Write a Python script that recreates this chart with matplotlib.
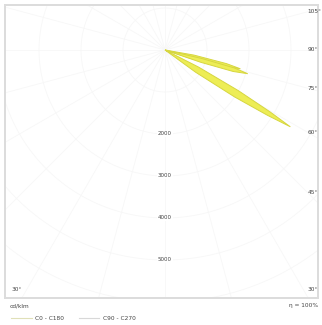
import numpy as np
import matplotlib
matplotlib.use("Agg")
import matplotlib.pyplot as plt
from matplotlib.lines import Line2D

# luminous intensity distribution (cd/klm), gamma angle measured from nadir
c0_gamma = [48, 54, 56, 57.5, 58.5, 59.5, 61, 63, 68, 72, 74.5, 76, 77.5, 80, 84]
c0_int = [0, 900, 2000, 2900, 3500, 2900, 2000, 900, 0, 700, 1500, 1850, 1500, 700, 0]
c90_gamma = [67, 71, 72.5, 74, 75.5, 77, 81]
c90_int = [0, 900, 1700, 2050, 1700, 900, 0]

ring_values = [1000, 2000, 3000, 4000, 5000, 6000, 7000]
ring_labels = ["2000", "3000", "4000", "5000"]
angle_ticks = [105, 90, 75, 60, 45]
legend_names = ["C0 - C180", "C90 - C270"]


def to_xy(gamma, r):
    g = np.radians(gamma)
    return np.asarray(r) * np.sin(g), -np.asarray(r) * np.cos(g)


fig = plt.figure(figsize=(3.22, 3.25), dpi=100)
ax = fig.add_axes([5 / 322, 27 / 325, 313 / 322, 293 / 325])
ax.set_xlim(-3810, 3643)
ax.set_ylim(-5905, 1071)
ax.set_aspect("equal", adjustable="box")
ax.set_xticks([])
ax.set_yticks([])
for s in ax.spines.values():
    s.set_color("#dcdcdc")
    s.set_linewidth(1.4)

# faint grid: rings and radial lines
t = np.linspace(0, 360, 361)
for rv in ring_values:
    x, y = to_xy(t, rv)
    ax.plot(x, y, color="#f7f7f7", lw=0.6, zorder=1)
for a in range(0, 360, 15):
    x, y = to_xy([a, a], [0, 8000])
    ax.plot(x, y, color="#f7f7f7", lw=0.6, zorder=1)

# lobes
for g, i in [(c0_gamma, c0_int), (c90_gamma, c90_int)]:
    x, y = to_xy(g, i)
    x = np.concatenate([[0], x, [0]])
    y = np.concatenate([[0], y, [0]])
    ax.fill(x, y, facecolor="#eded55", edgecolor="#d6d640", lw=0.7, zorder=3)

# radial labels
for k, lab in enumerate(ring_labels):
    ax.text(0, -ring_values[k + 1], lab, ha="center", va="center", fontsize=4,
            color="#444444", zorder=4,
            bbox=dict(facecolor="white", edgecolor="none", pad=0.6))

# angle labels on the right edge
xr = 3400
for a in angle_ticks:
    yy = -xr / np.tan(np.radians(a))
    ax.text(xr, yy, f"{a}°", ha="left", va="center", fontsize=4.2, color="#444444")
ax.text(-3650, -5700, "30°", ha="left", va="center", fontsize=4.2, color="#444444")
ax.text(3400, -5700, "30°", ha="left", va="center", fontsize=4.2, color="#444444")

fig.text(10 / 322, 1 - 306 / 325, "cd/klm", fontsize=4.2, color="#444444", va="center")
fig.text(318 / 322, 1 - 306 / 325, "η = 100%", fontsize=4.2, color="#444444",
         va="center", ha="right")

handles = [Line2D([], [], color="#e0e0b8", lw=0.8),
           Line2D([], [], color="#d8d8d8", lw=0.8)]
fig.legend(handles, legend_names, loc="center left", bbox_to_anchor=(6 / 322, 1 - 318 / 325),
           ncol=2, frameon=False, fontsize=4.2, handlelength=3.5, handletextpad=0.6,
           columnspacing=2.5, labelcolor="#444444")

fig.savefig("out.png", dpi=100)
